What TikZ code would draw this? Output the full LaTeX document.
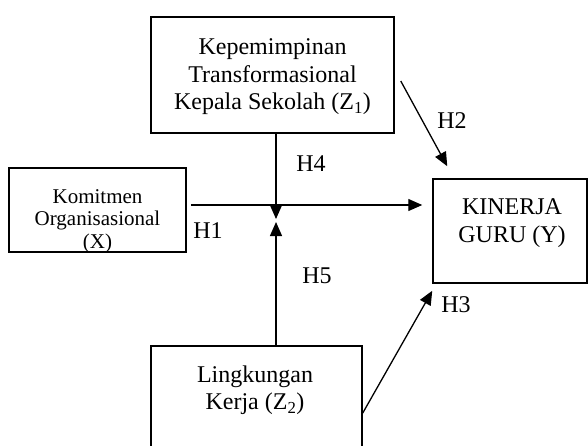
\documentclass[tikz,border=0pt]{standalone}
\usepackage{fontspec}
\setmainfont{Liberation Serif}
\usetikzlibrary{arrows.meta,calc}
\tikzset{
  box/.style={draw, line width=1.5pt, inner sep=0pt},
  txt/.style={align=center, inner sep=0pt, font=\fontsize{24}{27.5}\selectfont},
  smalltxt/.style={align=center, inner sep=0pt, font=\fontsize{21}{22.5}\selectfont},
  arr/.style={line width=1.3pt, -{Triangle[length=14pt,width=12pt]}},
  hyp/.style={inner sep=0pt, font=\fontsize{24}{27.5}\selectfont}
}
\begin{document}
\begin{tikzpicture}[x=1pt,y=-1pt]
  \useasboundingbox (0,0) rectangle (588,445);
  \clip (0,0) rectangle (588,445);

  % boxes
  \node[box, minimum width=243pt, minimum height=116pt] (Z1) at (272.5,75) {};
  \node[box, minimum width=177pt, minimum height=84pt] (X) at (97.5,210) {};
  \node[box, minimum width=154pt, minimum height=104pt] (Y) at (510,231) {};
  \node[box, minimum width=211pt, minimum height=134pt] (Z2) at (256.5,413) {};

  % texts
  \node[txt] (Z1t) at (272.5,77) {Kepemimpinan\\Transformasional\\Kepala Sekolah (Z\textsubscript{1})};
  \node[smalltxt] (Xt) at (97.5,221) {Komitmen\\Organisasional\\(X)};
  \node[txt] (Yt) at (512,223) {KINERJA\\GURU (Y)};
  \node[txt] (Z2t) at (255,390) {Lingkungan\\Kerja (Z\textsubscript{2})};

  % arrows
  \coordinate (m) at (276,205);
  \draw[arr] (Z1.south -| m) -- ($(m)+(0,14)$);
  \draw[arr] (Z2.north -| m) -- ($(m)+(0,17)$);
  \draw[arr] ($(X.east |- m)+(4,0)$) -- ($(Y.west |- m)+(-10,0)$);
  \draw[arr] ($(Z1.east)+(6,6)$) -- ($(Y.north west)+(15,-12)$);
  \draw[arr] (Z2.east) -- ($(Y.south west)+(0,7)$);

  % hypotheses
  \node[hyp] (H1) at (208,231) {H1};
  \node[hyp] (H2) at (452,121) {H2};
  \node[hyp] (H3) at (456,305) {H3};
  \node[hyp] (H4) at (311,164) {H4};
  \node[hyp] (H5) at (317,276) {H5};
\end{tikzpicture}
\end{document}
